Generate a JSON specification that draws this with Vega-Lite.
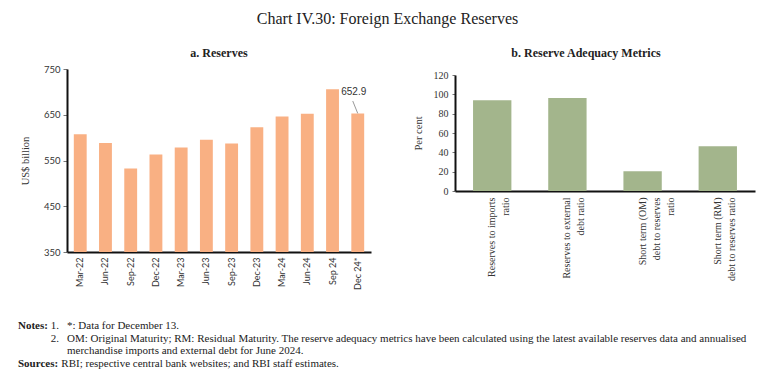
{
  "$schema": "https://vega.github.io/schema/vega-lite/v6.json",
  "padding": {"left": 18, "top": 11, "right": 5, "bottom": 5},
  "background": "white",
  "title": {"text": "Chart IV.30: Foreign Exchange Reserves", "font": "Liberation Serif", "fontSize": 16, "fontWeight": "normal", "color": "#222", "anchor": "middle", "offset": 20},
  "config": {
    "view": {"stroke": null},
    "axis": {"grid": false, "domainColor": "#111", "domainWidth": 2, "tickColor": "#777", "labelColor": "#333", "titleColor": "#333", "titleFontWeight": "normal"}
  },
  "spacing": 30,
  "vconcat": [
    {
      "spacing": 42,
      "hconcat": [
        {
          "width": 304,
          "height": 183,
          "title": {"text": "a. Reserves", "font": "Liberation Serif", "fontSize": 12, "fontWeight": "bold", "color": "#222", "offset": 4},
          "data": {"values": [
            {"q": "Mar-22", "v": 607.3},
            {"q": "Jun-22", "v": 588.3},
            {"q": "Sep-22", "v": 532.7},
            {"q": "Dec-22", "v": 562.9},
            {"q": "Mar-23", "v": 578.4},
            {"q": "Jun-23", "v": 595.1},
            {"q": "Sep-23", "v": 586.9},
            {"q": "Dec-23", "v": 622.5},
            {"q": "Mar-24", "v": 646.4},
            {"q": "Jun-24", "v": 652.0},
            {"q": "Sep 24", "v": 705.8},
            {"q": "Dec 24*", "v": 652.9}
          ]},
          "encoding": {
            "x": {"field": "q", "type": "nominal", "sort": null, "title": null,
                  "scale": {"paddingInner": 0.49, "paddingOuter": 0.27},
                  "axis": {"labelAngle": -90, "ticks": false, "labelPadding": 5, "labelFont": "Lato", "labelFontSize": 9}},
            "y": {"field": "v", "type": "quantitative", "title": "US$ billion",
                  "scale": {"domain": [350, 750], "zero": false, "nice": false},
                  "axis": {"values": [350, 450, 550, 650, 750], "tickSize": 4, "labelPadding": 3, "labelFont": "Lato", "labelFontSize": 9.5, "titleFont": "Liberation Serif", "titleFontSize": 10.5, "titlePadding": 13}}
          },
          "layer": [
            {"mark": {"type": "bar", "color": "#F9B083"}, "encoding": {"y2": {"datum": 350}}},
            {"transform": [{"filter": "datum.q === 'Dec 24*'"}],
             "mark": {"type": "rule", "color": "#999", "strokeWidth": 1, "x2Offset": -5},
             "encoding": {"x2": {"field": "q"}, "y2": {"datum": 680}}},
            {"transform": [{"filter": "datum.q === 'Dec 24*'"}],
             "mark": {"type": "text", "font": "Liberation Sans", "fontSize": 10, "color": "#333", "dx": -4, "dy": -21, "baseline": "middle"},
             "encoding": {"text": {"field": "v", "format": ".1f"}}}
          ]
        },
        {
          "spacing": 0,
          "vconcat": [
            {
              "width": 300,
              "height": 1,
              "title": {"text": "b. Reserve Adequacy Metrics", "font": "Liberation Serif", "fontSize": 12, "fontWeight": "bold", "color": "#222", "offset": 9, "dx": -19},
              "data": {"values": []},
              "mark": "point"
            },
            {
              "width": 300,
              "height": 116,
              "data": {"values": [
                {"m": "Reserves to imports|ratio", "v": 93.8},
                {"m": "Reserves to external|debt ratio", "v": 96.2},
                {"m": "Short term (OM)|debt to reserves|ratio", "v": 20.4},
                {"m": "Short term (RM)|debt to reserves ratio", "v": 46.2}
              ]},
              "mark": {"type": "bar", "color": "#A3B58C"},
              "encoding": {
                "x": {"field": "m", "type": "nominal", "sort": null, "title": null,
                      "scale": {"paddingInner": 0.49, "paddingOuter": 0.24},
                      "axis": {"labelAngle": -90, "ticks": false, "labelPadding": 6, "labelFont": "Liberation Serif", "labelFontSize": 10, "labelLineHeight": 14, "labelExpr": "split(datum.label, '|')"}},
                "y": {"field": "v", "type": "quantitative", "title": "Per cent",
                      "scale": {"domain": [0, 120], "nice": false},
                      "axis": {"values": [0, 20, 40, 60, 80, 100, 120], "tickSize": 3, "labelPadding": 4, "labelFont": "Liberation Serif", "labelFontSize": 10, "titleFont": "Liberation Serif", "titleFontSize": 10.5, "titlePadding": 10}}
              }
            }
          ]
        }
      ]
    },
    {
      "width": 690,
      "height": 38,
      "data": {"values": [
        {"line": 1, "col": "head", "t": "Notes:"},
        {"line": 1, "col": "num", "t": "1."},
        {"line": 1, "col": "text", "t": "*: Data for December 13."},
        {"line": 2, "col": "num", "t": "2."},
        {"line": 2, "col": "text", "t": "OM: Original Maturity; RM: Residual Maturity. The reserve adequacy metrics have been calculated using the latest available reserves data and annualised"},
        {"line": 3, "col": "text", "t": "merchandise imports and external debt for June 2024."},
        {"line": 4, "col": "head", "t": "Sources:"},
        {"line": 4, "col": "src", "t": "RBI; respective central bank websites; and RBI staff estimates."}
      ]},
      "encoding": {
        "x": {"field": "col", "type": "nominal", "axis": null, "scale": {"type": "point", "domain": ["head", "src", "num", "text"], "range": [-49, 0], "padding": 0}},
        "y": {"field": "line", "type": "quantitative", "axis": null, "scale": {"domain": [1, 4], "reverse": true, "nice": false, "zero": false}},
        "text": {"field": "t"}
      },
      "layer": [
        {"transform": [{"filter": "datum.col === 'head'"}],
         "mark": {"type": "text", "align": "left", "baseline": "middle", "font": "Liberation Serif", "fontSize": 11, "fontWeight": "bold", "color": "#222"}},
        {"transform": [{"filter": "datum.col === 'num' || datum.col === 'text'"}],
         "mark": {"type": "text", "align": "left", "baseline": "middle", "font": "Liberation Serif", "fontSize": 11, "color": "#222"}},
        {"transform": [{"filter": "datum.col === 'src'"}],
         "mark": {"type": "text", "align": "left", "baseline": "middle", "font": "Liberation Serif", "fontSize": 11, "color": "#222", "dx": 27}}
      ]
    }
  ]
}
